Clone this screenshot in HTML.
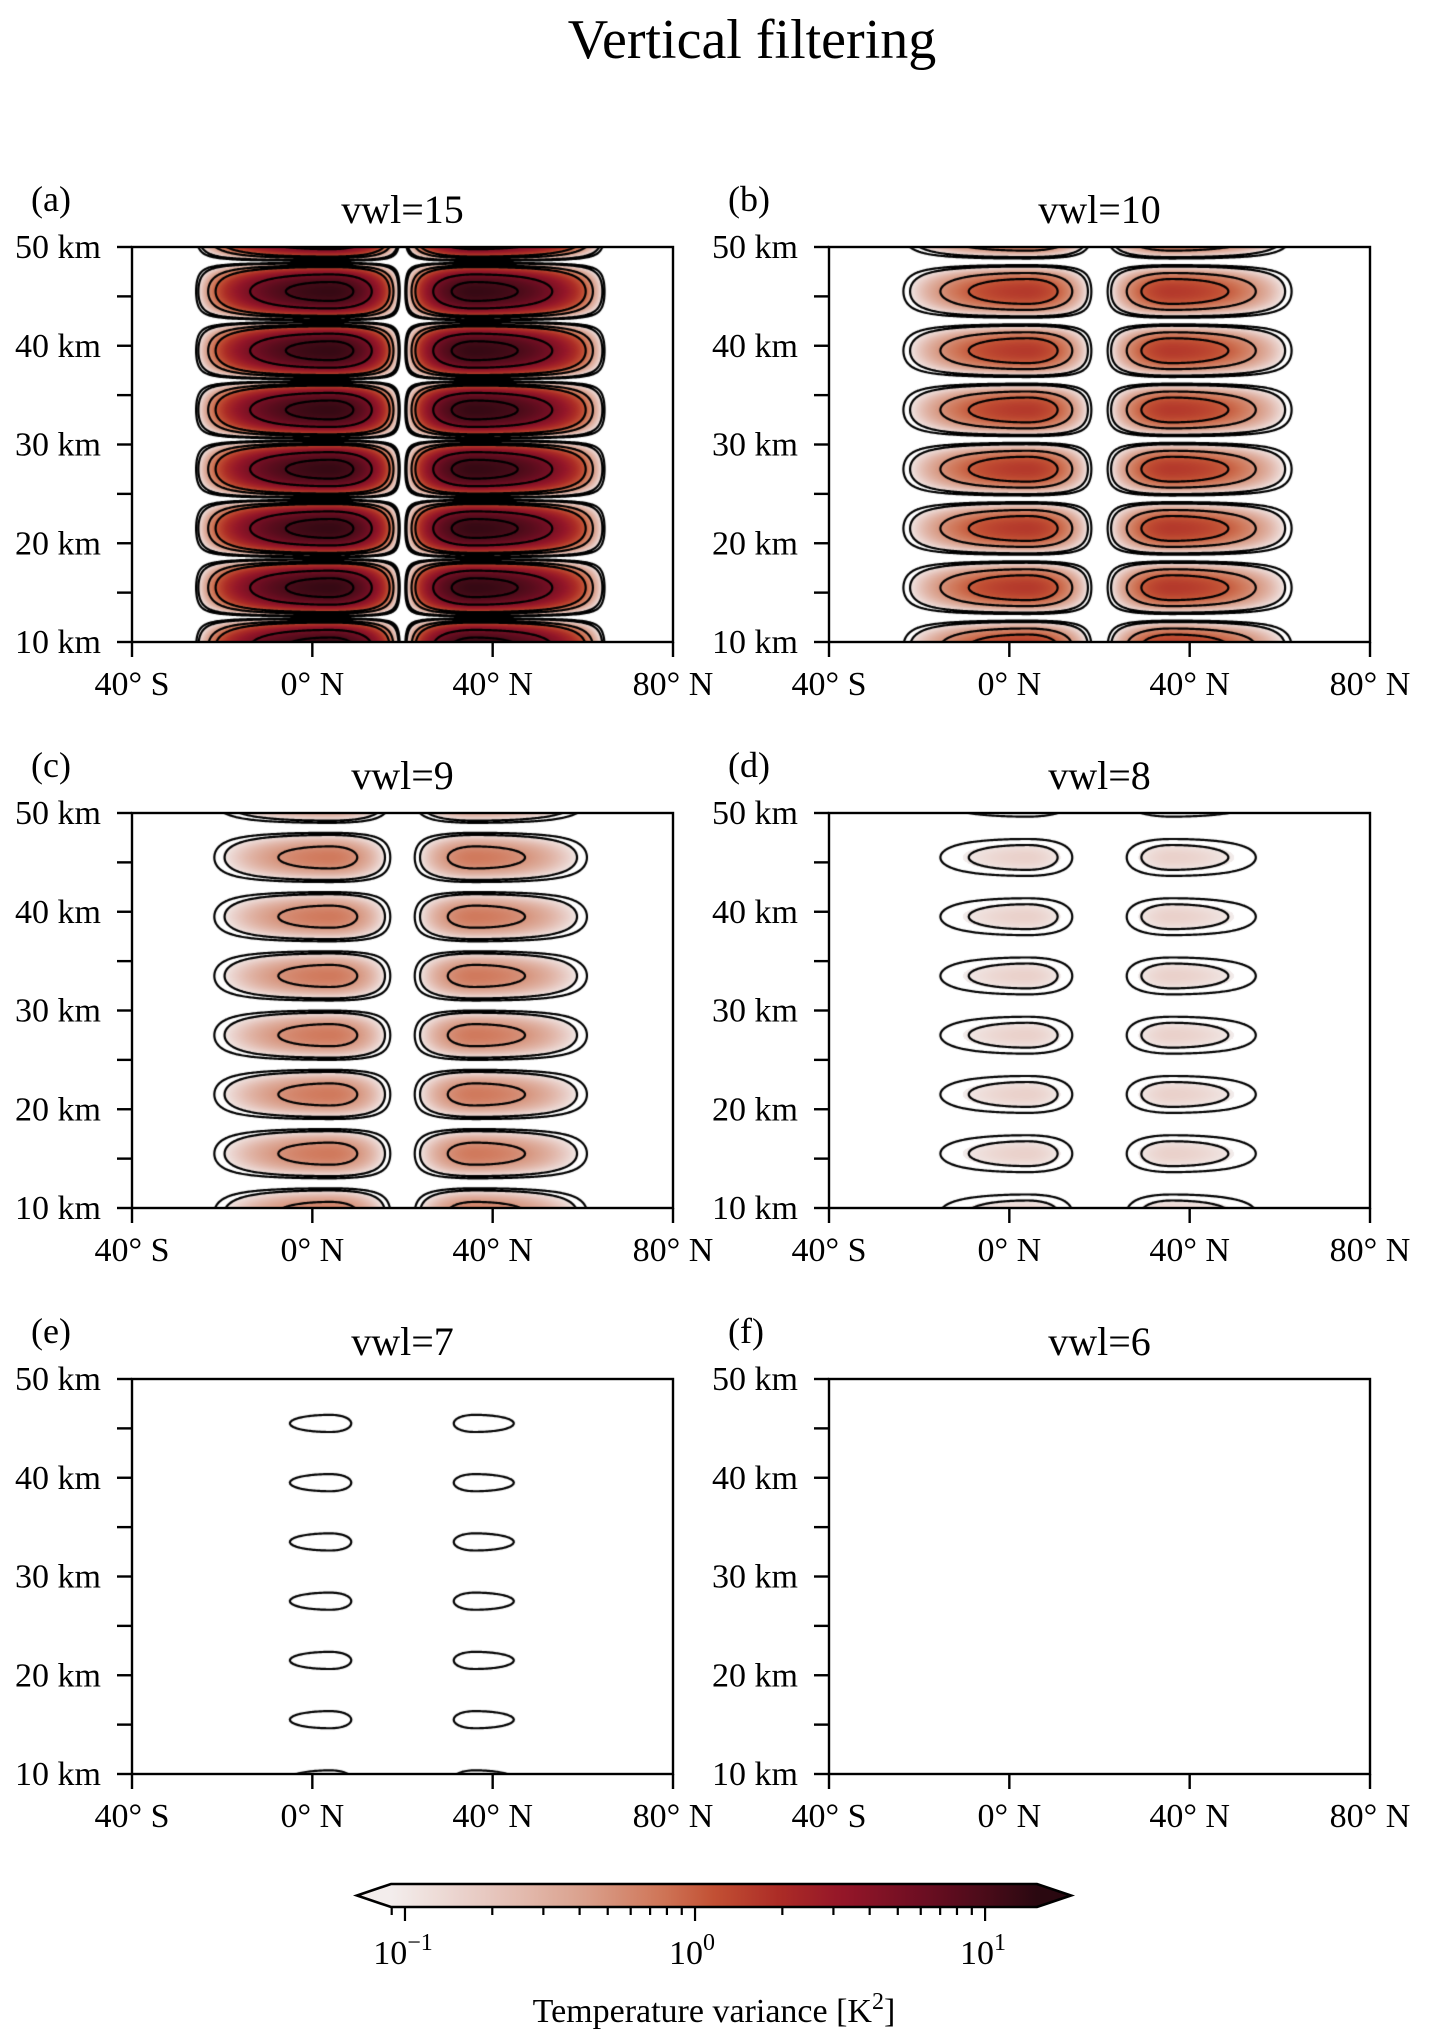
<!DOCTYPE html>
<html><head><meta charset="utf-8">
<style>
html,body{margin:0;padding:0;background:#fff;}
#wrap{position:relative;width:1430px;height:2041px;overflow:hidden;background:#fff;}
canvas{position:absolute;}
svg{position:absolute;left:0;top:0;}
text{font-family:"Liberation Serif",serif;fill:#000;}
</style></head>
<body>
<div id="wrap">
<svg id="svg" width="1430" height="2041">
<text x="403" y="1964" font-size="34" text-anchor="middle">10<tspan dy="-14" font-size="24">−1</tspan></text>
<text x="692" y="1964" font-size="34" text-anchor="middle">10<tspan dy="-14" font-size="24">0</tspan></text>
<text x="983" y="1964" font-size="34" text-anchor="middle">10<tspan dy="-14" font-size="24">1</tspan></text>
<text x="714" y="2022" font-size="34" text-anchor="middle">Temperature variance [K<tspan dy="-13" font-size="24">2</tspan><tspan dy="13">]</tspan></text>
</svg>
</div>
<script>
// ---- data ----
const panelLabels = ['(a)','(b)','(c)','(d)','(e)','(f)'];
const panelTitles = ['vwl=15','vwl=10','vwl=9','vwl=8','vwl=7','vwl=6'];
const amplitudes = [13, 1.6, 0.72, 0.16, 0.062, 0.035];
const lobeCenters = [4, 36];
const lobeBoundary = 20;
const lobeOuterEdges = [-27, 66];
const layerCenterKm = 45.5;
const layerPeriodKm = 6;
const contourLevels = [0.05, 0.1, 0.5, 1, 5, 10];
const latTicks = [-40, 0, 40, 80];
const latTickLabels = ['40\u00B0 S', '0\u00B0 N', '40\u00B0 N', '80\u00B0 N'];
const heightTicks = [10, 15, 20, 25, 30, 35, 40, 45, 50];
const heightLabels = [10, 20, 30, 40, 50];
const cbarMin = 0.0895, cbarMax = 15.1;

// ---- layout ----
const colX = [132, 829], rowY = [247, 813, 1379], AW = 541, AH = 395;
const latMin = -40, latMax = 80, zMin = 10, zMax = 50;
const NS = 'http://www.w3.org/2000/svg';
const svg = document.getElementById('svg');
const wrap = document.getElementById('wrap');

function mk(tag, attrs, parent) {
  const el = document.createElementNS(NS, tag);
  for (const k in attrs) el.setAttribute(k, String(attrs[k]));
  (parent || svg).appendChild(el);
  return el;
}

const stops = [
  [0.00, [243, 237, 236]], [0.15, [231, 200, 192]], [0.30, [218, 160, 140]],
  [0.42, [207, 117, 87]], [0.50, [194, 80, 52]], [0.60, [172, 44, 38]],
  [0.70, [148, 22, 40]], [0.82, [110, 14, 34]], [0.92, [74, 11, 25]], [1.00, [42, 8, 16]]
];
function cmap(t) {
  t = Math.max(0, Math.min(1, t));
  for (let i = 1; i < stops.length; i++) {
    if (t <= stops[i][0]) {
      const a = stops[i - 1], b = stops[i];
      const f = (t - a[0]) / (b[0] - a[0]);
      return [0, 1, 2].map(k => Math.round(a[1][k] + (b[1][k] - a[1][k]) * f));
    }
  }
  return stops[stops.length - 1][1];
}
const lmin = Math.log10(cbarMin), lmax = Math.log10(cbarMax);

function latShape(lat) {
  let best = 0;
  for (let i = 0; i < lobeCenters.length; i++) {
    const c = lobeCenters[i];
    const x = lat - c;
    let w;
    if (i === 0) w = x < 0 ? c - lobeOuterEdges[0] : lobeBoundary - c;
    else w = x < 0 ? c - lobeBoundary : lobeOuterEdges[1] - c;
    if (Math.abs(x) < w) {
      const v = Math.cos(Math.PI * x / (2 * w));
      best = Math.max(best, v * v);
    }
  }
  return best;
}
function field(A, lat, z) {
  const v = Math.cos(Math.PI * (z - layerCenterKm) / layerPeriodKm);
  return A * latShape(lat) * v * v;
}
const xOf = lat => (lat - latMin) / (latMax - latMin) * AW;
const yOf = z => (zMax - z) / (zMax - zMin) * AH;

for (let p = 0; p < 6; p++) {
  const x0 = colX[p % 2], y0 = rowY[Math.floor(p / 2)], A = amplitudes[p];
  const cv = document.createElement('canvas');
  cv.width = AW; cv.height = AH;
  cv.style.left = x0 + 'px'; cv.style.top = y0 + 'px';
  
  
  wrap.insertBefore(cv, svg);
  const ctx = cv.getContext('2d');
  const img = ctx.createImageData(AW, AH);
  for (let j = 0; j < AH; j++) {
    const z = zMax - (j + 0.5) / AH * (zMax - zMin);
    for (let i = 0; i < AW; i++) {
      const lat = latMin + (i + 0.5) / AW * (latMax - latMin);
      const v = field(A, lat, z);
      let c = [255, 255, 255];
      if (v >= cbarMin) c = cmap((Math.log10(v) - lmin) / (lmax - lmin));
      const k = (j * AW + i) * 4;
      img.data[k] = c[0]; img.data[k + 1] = c[1]; img.data[k + 2] = c[2]; img.data[k + 3] = 255;
    }
  }
  ctx.putImageData(img, 0, 0);
  const st = 1.5, nx = Math.ceil(AW / st) + 1, ny = Math.ceil(AH / st) + 1;
  const g = new Float32Array(nx * ny);
  for (let j = 0; j < ny; j++) for (let i = 0; i < nx; i++) {
    const lat = latMin + (i * st) / AW * (latMax - latMin);
    const z = zMax - (j * st) / AH * (zMax - zMin);
    g[j * nx + i] = field(A, lat, z);
  }
  ctx.strokeStyle = '#000'; ctx.lineWidth = 2.2; ctx.lineCap = 'round';
  ctx.beginPath();
  for (const L of contourLevels) {
    for (let j = 0; j < ny - 1; j++) for (let i = 0; i < nx - 1; i++) {
      const a = g[j * nx + i], b = g[j * nx + i + 1], c = g[(j + 1) * nx + i + 1], d = g[(j + 1) * nx + i];
      const pts = [];
      const X = i * st, Y = j * st;
      if ((a >= L) !== (b >= L)) pts.push([X + st * (L - a) / (b - a), Y]);
      if ((b >= L) !== (c >= L)) pts.push([X + st, Y + st * (L - b) / (c - b)]);
      if ((d >= L) !== (c >= L)) pts.push([X + st * (L - d) / (c - d), Y + st]);
      if ((a >= L) !== (d >= L)) pts.push([X, Y + st * (L - a) / (d - a)]);
      if (pts.length >= 2) { ctx.moveTo(pts[0][0], pts[0][1]); ctx.lineTo(pts[1][0], pts[1][1]); }
      if (pts.length === 4) { ctx.moveTo(pts[2][0], pts[2][1]); ctx.lineTo(pts[3][0], pts[3][1]); }
    }
  }
  ctx.stroke();

  const fr = mk('rect', {x: x0, y: y0, width: AW, height: AH, fill: 'none', stroke: '#000', 'stroke-width': 2.4});
  
  
  for (const h of heightTicks) {
    const y = y0 + yOf(h);
    const t = mk('line', {x1: x0 - 15, x2: x0, y1: y, y2: y, stroke: '#000', 'stroke-width': 2.4});
    
    
  }
  for (const h of heightLabels) {
    const y = y0 + yOf(h);
    const t = mk('text', {x: x0 - 31, y: y + 11, 'font-size': 34, 'text-anchor': 'end'});
    t.textContent = h + ' km';
    
    
  }
  latTicks.forEach((lat, k) => {
    const x = x0 + xOf(lat);
    const t = mk('line', {x1: x, x2: x, y1: y0 + AH, y2: y0 + AH + 15, stroke: '#000', 'stroke-width': 2.4});
    
    
    const l = mk('text', {x: x, y: y0 + AH + 53, 'font-size': 34, 'text-anchor': 'middle'});
    l.textContent = latTickLabels[k];
    
    
  });
  const ti = mk('text', {x: x0 + AW / 2, y: y0 - 24, 'font-size': 40, 'text-anchor': 'middle'});
  ti.textContent = panelTitles[p];
  
  
  const pl = mk('text', {x: x0 - 101, y: y0 - 36, 'font-size': 36});
  pl.textContent = panelLabels[p];
  
  
}

const mt = mk('text', {x: 752, y: 58, 'font-size': 56, 'text-anchor': 'middle'});
mt.textContent = 'Vertical filtering';



const cbL = 391, cbR = 1037, cbT = 1884, cbB = 1907, tipL = 357, tipR = 1071;
try {
  const defs = mk('defs', {});
  const grad = mk('linearGradient', {id: 'cbg', x1: 0, x2: 1, y1: 0, y2: 0}, defs);
  for (let k = 0; k <= 40; k++) {
    const c = cmap(k / 40);
    mk('stop', {offset: (k / 40), 'stop-color': 'rgb(' + c.join(',') + ')'}, grad);
  }
  const cbLeft = mk('polygon', {points: cbL + ',' + cbT + ' ' + tipL + ',' + ((cbT + cbB) / 2) + ' ' + cbL + ',' + cbB, fill: 'rgb(243,237,236)'});
  
  
  const overC = cmap(1);
  const cbRight = mk('polygon', {points: cbR + ',' + cbT + ' ' + tipR + ',' + ((cbT + cbB) / 2) + ' ' + cbR + ',' + cbB, fill: 'rgb(' + overC.join(',') + ')'});
  
  
  const cbBody = mk('rect', {x: cbL, y: cbT, width: cbR - cbL, height: cbB - cbT, fill: 'url(#cbg)'});
  
  
  const cbOut = mk('polygon', {points: cbL + ',' + cbT + ' ' + cbR + ',' + cbT + ' ' + tipR + ',' + ((cbT + cbB) / 2) + ' ' + cbR + ',' + cbB + ' ' + cbL + ',' + cbB + ' ' + tipL + ',' + ((cbT + cbB) / 2), fill: 'none', stroke: '#000', 'stroke-width': 2.6});
  
  
} catch (err) {}
try {
  for (let ex = -2; ex <= 1; ex++) {
    for (let m = 1; m <= 9; m++) {
      const v = m * Math.pow(10, ex);
      if (v < cbarMin || v > cbarMax) continue;
      const x = cbL + (Math.log10(v) - lmin) / (lmax - lmin) * (cbR - cbL);
      const tk = mk('line', {x1: x, x2: x, y1: cbB, y2: cbB + (m === 1 ? 14 : 8), stroke: '#000', 'stroke-width': 2.2});
      
      
    }
  }
} catch (err) {}
</script>
</body></html>
